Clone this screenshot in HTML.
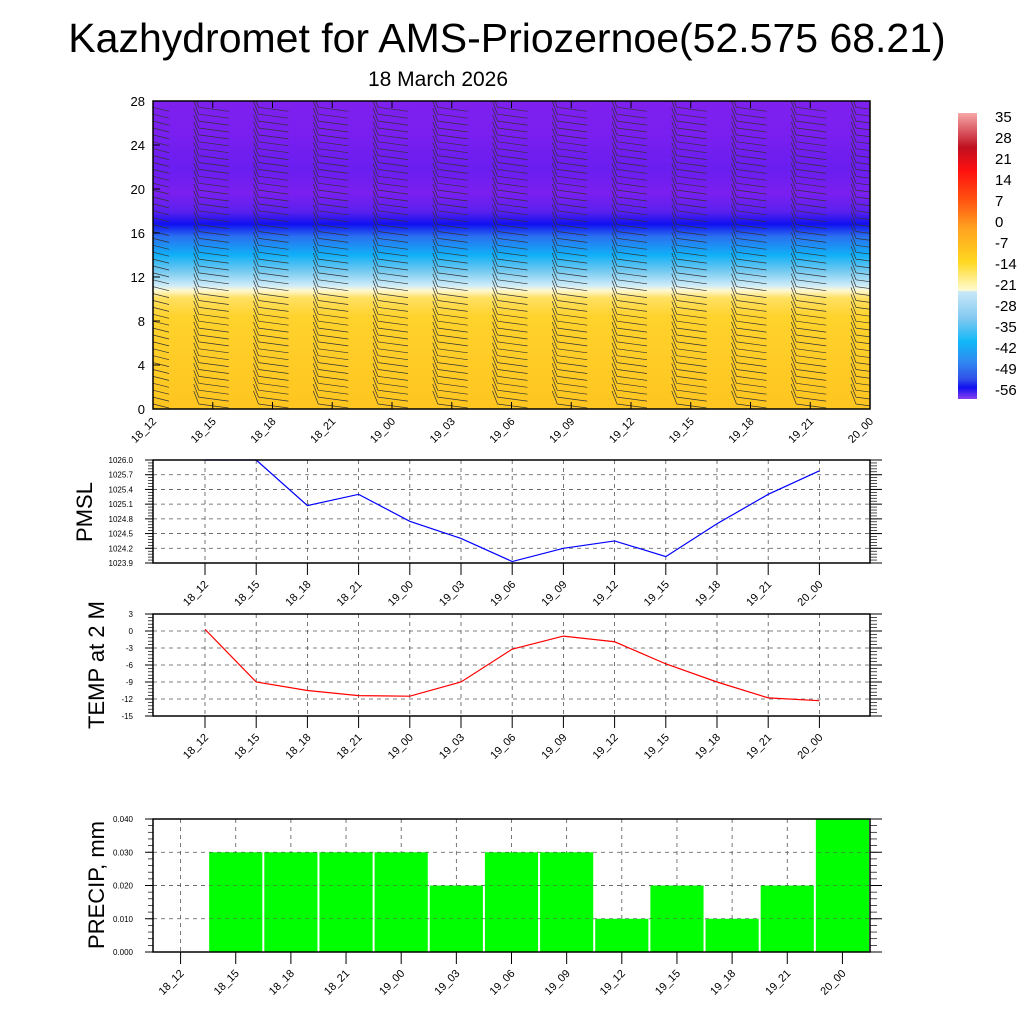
<!DOCTYPE html>
<html><head><meta charset="utf-8"><style>
body{margin:0;background:#fff}
svg{display:block;font-family:"Liberation Sans",sans-serif}
</style></head><body>
<svg id="c" width="1024" height="1024" xmlns="http://www.w3.org/2000/svg">
<defs>
<clipPath id="clipTop"><rect x="153" y="101" width="717" height="308"/></clipPath>
<linearGradient id="tg" x1="0" y1="1" x2="0" y2="0">
<stop offset="0" stop-color="#ffc520"/>
<stop offset="0.3" stop-color="#ffd22c"/>
<stop offset="0.36" stop-color="#ffe060"/>
<stop offset="0.385" stop-color="#fff8d0"/>
<stop offset="0.4" stop-color="#d0ecf8"/>
<stop offset="0.45" stop-color="#70c8f0"/>
<stop offset="0.5" stop-color="#10b0f8"/>
<stop offset="0.56" stop-color="#2a70f0"/>
<stop offset="0.6" stop-color="#1010f0"/>
<stop offset="0.64" stop-color="#5a20ee"/>
<stop offset="0.7" stop-color="#7a1ff0"/>
<stop offset="0.78" stop-color="#6a1ef0"/>
<stop offset="0.9" stop-color="#7a1ff0"/>
<stop offset="1" stop-color="#7e20ee"/>
</linearGradient>
<linearGradient id="cb" x1="0" y1="0" x2="0" y2="1">
<stop offset="0" stop-color="#f6a8a8"/>
<stop offset="0.12" stop-color="#c01020"/>
<stop offset="0.2" stop-color="#ff1010"/>
<stop offset="0.3" stop-color="#ff5010"/>
<stop offset="0.4" stop-color="#ffa020"/>
<stop offset="0.52" stop-color="#ffd820"/>
<stop offset="0.62" stop-color="#fffbd0"/>
<stop offset="0.625" stop-color="#c8e8f8"/>
<stop offset="0.72" stop-color="#80c8f0"/>
<stop offset="0.8" stop-color="#10b8f8"/>
<stop offset="0.87" stop-color="#3088f0"/>
<stop offset="0.93" stop-color="#3050e8"/>
<stop offset="0.96" stop-color="#1010f0"/>
<stop offset="1" stop-color="#8a40f0"/>
</linearGradient>
</defs>
<text x="507" y="52" font-size="41" text-anchor="middle">Kazhydromet for AMS-Priozernoe(52.575 68.21)</text>
<text x="438" y="86" font-size="21" text-anchor="middle">18 March 2026</text>
<rect x="153" y="101" width="717" height="308" fill="url(#tg)"/>
<g id="barbs" clip-path="url(#clipTop)"></g>
<rect x="153" y="101" width="717" height="308" fill="none" stroke="#000" stroke-width="1.5"/>
<g id="topax"></g>
<rect x="958" y="113" width="19" height="286" fill="url(#cb)"/>
<g id="cbl"></g>
<g id="p1"></g>
<g id="p2"></g>
<g id="p3"></g>
<text transform="translate(92,512) rotate(-90)" font-size="22" text-anchor="middle">PMSL</text>
<text transform="translate(104,665) rotate(-90)" font-size="22" text-anchor="middle">TEMP at 2 M</text>
<text transform="translate(104,885) rotate(-90)" font-size="22" text-anchor="middle">PRECIP, mm</text>
</svg>
<script>
const times=["18_12","18_15","18_18","18_21","19_00","19_03","19_06","19_09","19_12","19_15","19_18","19_21","20_00"];
const pmsl=[1026.0,1026.0,1025.07,1025.3,1024.75,1024.4,1023.93,1024.2,1024.35,1024.03,1024.7,1025.3,1025.78];
const temp=[0.3,-9,-10.5,-11.4,-11.5,-9,-3.2,-0.9,-1.9,-5.8,-9,-11.8,-12.3];
const precip=[0,0.03,0.03,0.03,0.03,0.02,0.03,0.03,0.01,0.02,0.01,0.02,0.04];
const pmslTicks=["1023.9","1024.2","1024.5","1024.8","1025.1","1025.4","1025.7","1026.0"];
const tempTicks=["-15","-12","-9","-6","-3","0","3"];
const precipTicks=["0.000","0.010","0.020","0.030","0.040"];
const heightTicks=["0","4","8","12","16","20","24","28"];
const cbLabels=["35","28","21","14","7","0","-7","-14","-21","-28","-35","-42","-49","-56"];
const NS="http://www.w3.org/2000/svg";
function mk(p,t,a){const e=document.createElementNS(NS,t);for(const k in a)e.setAttribute(k,a[k]);p.appendChild(e);return e;}
const topAx=document.getElementById('topax');
const tx=i=>153+i*717/12, hy=v=>409-v*11;
heightTicks.forEach(s=>{const v=+s,y=hy(v);
 const l=mk(topAx,'line',{x1:153,x2:160,y1:y,y2:y,stroke:'#000'});
 
 
 const t=mk(topAx,'text',{x:145,y:y+5,'font-size':13,'text-anchor':'end'});t.textContent=s;
 
 });
times.forEach((s,i)=>{const x=tx(i);
 mk(topAx,'line',{x1:x,x2:x,y1:101,y2:108,stroke:'#000'});mk(topAx,'line',{x1:x,x2:x,y1:402,y2:409,stroke:'#000'});
 const t=mk(topAx,'text',{transform:`translate(${x+4},${422}) rotate(-45)`,'font-size':11,'text-anchor':'end'});t.textContent=s;
 
 });
const bg=document.getElementById('barbs');
times.forEach((s,i)=>{const x0=tx(i);
 for(let k=0;k<44;k++){const y=404-k*6.9; if(y<104)break;
  const a=i===0?x0:x0-14, b=x0+16;
  const d=i===0?`M${a} ${y} L${b} ${y+4}`:`M${a} ${y} L${b} ${y+4} M${a} ${y} L${a-5} ${y-13}`;
  const ln=mk(bg,'path',{d:d,stroke:'#333','stroke-width':0.7,fill:'none'});
  
  }});
const cbl=document.getElementById('cbl');
cbLabels.forEach((s,i)=>{const t=mk(cbl,'text',{x:995,y:122+i*21,'font-size':15});t.textContent=s;
 
 });
function panel(id,y0,y1,ticks,lo,hi,cat){
 const g=document.getElementById(id);
 const n=times.length;
 const xf=cat?(i=>153+(i+0.5)*717/n):(i=>205+i*51.2);
 const yf=v=>y1-(v-lo)/(hi-lo)*(y1-y0);
 times.forEach((s,i)=>{const x=xf(i);
  mk(g,'line',{x1:x,x2:x,y1:y0,y2:y1,stroke:'#555','stroke-dasharray':'4 4','stroke-width':0.8});
  mk(g,'line',{x1:x,x2:x,y1:y1,y2:y1+12,stroke:'#000'});
  const t=mk(g,'text',{transform:`translate(${x+4},${y1+22}) rotate(-45)`,'font-size':11,'text-anchor':'end'});t.textContent=s;
  
  });
 ticks.forEach(s=>{const y=yf(+s);
  mk(g,'line',{x1:153,x2:870,y1:y,y2:y,stroke:'#555','stroke-dasharray':'4 4','stroke-width':0.8});
  mk(g,'line',{x1:870,x2:882,y1:y,y2:y,stroke:'#000'});mk(g,'line',{x1:145,x2:153,y1:y,y2:y,stroke:'#000'});
  const t=mk(g,'text',{x:133,y:y+3,'font-size':8,'text-anchor':'end'});t.textContent=s;
  
  });
 for(let k=0;k<=(ticks.length-1)*5;k++){const y=y1-k*(y1-y0)/((ticks.length-1)*5);
  mk(g,'line',{x1:870,x2:877,y1:y,y2:y,stroke:'#000','stroke-width':0.7});mk(g,'line',{x1:148,x2:153,y1:y,y2:y,stroke:'#000','stroke-width':0.7});}
 return {g,xf,yf};
}
function frame(g,y0,y1){mk(g,'rect',{x:153,y:y0,width:717,height:y1-y0,fill:'none',stroke:'#000','stroke-width':1.5});}
let P=panel('p1',460,563,pmslTicks,1023.9,1026.0,false);
let pl=mk(P.g,'polyline',{points:pmsl.map((v,i)=>P.xf(i)+','+P.yf(v)).join(' '),fill:'none',stroke:'#00f','stroke-width':1.2});


frame(P.g,460,563);
P=panel('p2',614,716,tempTicks,-15,3,false);
pl=mk(P.g,'polyline',{points:temp.map((v,i)=>P.xf(i)+','+P.yf(v)).join(' '),fill:'none',stroke:'#f00','stroke-width':1.2});


frame(P.g,614,716);
P=panel('p3',819,952,precipTicks,0,0.04,true);
const bw=717/13;
precip.forEach((v,i)=>{if(v<=0)return;const y=P.yf(v);
 const r=mk(P.g,'rect',{x:P.xf(i)-bw/2+1,y:y,width:bw-2,height:952-y,fill:'#00ff00'});
 
 });
precipTicks.forEach(s=>{const y=P.yf(+s);mk(P.g,'line',{x1:153,x2:870,y1:y,y2:y,stroke:'#555','stroke-dasharray':'4 4','stroke-width':0.6});});
frame(P.g,819,952);
</script>
</body></html>
